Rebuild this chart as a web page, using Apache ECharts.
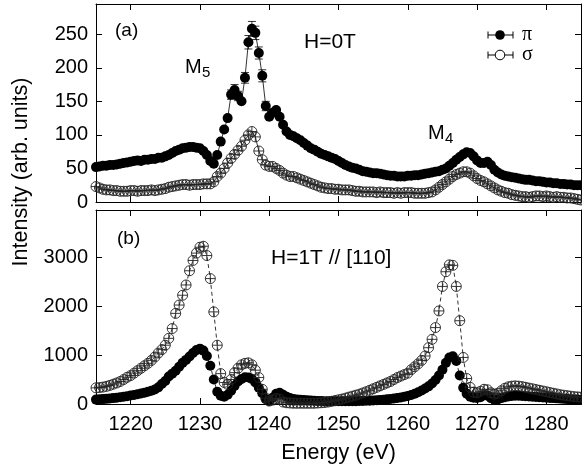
<!DOCTYPE html>
<html><head><meta charset="utf-8">
<script src="https://cdn.jsdelivr.net/npm/echarts@6/dist/echarts.min.js"></script>
<style>html,body{margin:0;padding:0;background:#fff}#c{width:582px;height:470px}</style>
</head><body><div id="c"></div>
<script>
// Photon energy grid (eV)
const energies = [
1215,1215.5,1216,1216.5,1217,1217.5,1218,1218.5,1219,1219.5,
1220,1220.5,1221,1221.5,1222,1222.5,1223,1223.5,1224,1224.5,
1225,1225.5,1226,1226.5,1227,1227.5,1228,1228.5,1229,1229.5,
1230,1230.5,1231,1231.5,1232,1232.5,1233,1233.5,1234,1234.5,
1235,1235.5,1236,1236.5,1237,1237.5,1238,1238.5,1239,1239.5,
1240,1240.5,1241,1241.5,1242,1242.5,1243,1243.5,1244,1244.5,
1245,1245.5,1246,1246.5,1247,1247.5,1248,1248.5,1249,1249.5,
1250,1250.5,1251,1251.5,1252,1252.5,1253,1253.5,1254,1254.5,
1255,1255.5,1256,1256.5,1257,1257.5,1258,1258.5,1259,1259.5,
1260,1260.5,1261,1261.5,1262,1262.5,1263,1263.5,1264,1264.5,
1265,1265.5,1266,1266.5,1267,1267.5,1268,1268.5,1269,1269.5,
1270,1270.5,1271,1271.5,1272,1272.5,1273,1273.5,1274,1274.5,
1275,1275.5,1276,1276.5,1277,1277.5,1278,1278.5,1279,1279.5,
1280,1280.5,1281,1281.5,1282,1282.5,1283,1283.5,1284,1284.5,
1285];
// (a) H = 0 T
const piTop = [
52,53,54,54,55,55,56,57,58,59,
60,61,62,61,63,63,64,64,66,66,
68,70,73,76,78,80,81,82,82,81,
80,76,70,61,57,70,90,108,125,160,
167,158,150,185,238,258,252,222,188,143,
127,133,137,127,115,105,100,98,95,92,
88,84,80,78,75,72,70,68,66,64,
61,58,55,53,51,50,48,46,45,44,
43,43,42,41,40,39,39,38,38,38,
39,39,40,40,41,42,43,44,45,46,
48,50,54,58,63,67,71,74,73,68,
62,58,58,60,55,48,44,41,39,38,
37,36,35,34,33,33,32,31,31,30,
29,29,28,28,27,27,26,26,25,25,
25];
const sigmaTop = [
23,21,19,18,18,17,17,16,16,16,
17,17,16,17,17,17,18,17,18,19,
20,22,23,24,25,26,26,25,26,26,
26,27,27,27,30,38,43,50,58,65,
71,77,83,92,100,105,97,76,63,55,
53,53,50,47,43,40,38,38,36,34,
32,30,28,26,24,22,21,20,20,19,
19,18,18,18,17,16,16,15,15,15,
15,14,15,14,14,14,13,14,13,14,
14,14,13,13,13,13,14,15,18,22,
26,30,34,38,41,43,45,45,43,39,
35,32,30,27,24,21,18,16,14,13,
11,10,9,8,8,7,8,9,9,8,
9,8,7,8,7,7,6,6,5,4,
3];
// error bars of the pi data in (a): [energy, error]
const piTopErr = [[1234.5,7],[1235,8],[1235.5,7],[1236.5,8],[1237,10],[1237.5,11],[1238,10],[1238.5,9],[1239,9],[1239.5,7]];
// (b) H = 1 T // [110]
const piBottom = [
90,95,100,105,112,120,128,138,148,160,
172,185,200,215,232,250,270,295,340,410,
470,560,620,680,760,840,900,970,1040,1100,
1130,1090,980,780,500,250,170,150,190,270,
370,460,510,545,540,510,440,330,220,100,
60,130,210,230,190,150,120,100,90,85,
80,75,70,66,62,60,58,56,55,55,
55,55,55,56,57,58,60,62,65,68,
72,76,82,88,95,103,112,122,134,148,
165,185,210,240,275,315,360,420,490,580,
700,840,950,975,880,580,330,210,150,130,
125,140,180,170,120,85,95,120,140,155,
165,170,170,165,160,155,150,145,140,135,
130,125,120,115,110,105,100,95,90,88,
85];
const sigmaBottom = [
330,335,345,360,380,405,430,460,500,545,
580,630,680,730,780,830,890,960,1040,1110,
1200,1340,1540,1850,2020,2220,2430,2720,2930,3080,
3200,3220,3030,2560,1880,1200,620,440,400,500,
640,730,800,830,840,800,690,540,300,120,
60,80,110,100,40,25,20,15,15,15,
15,15,15,15,20,25,30,40,55,70,
85,100,120,140,160,180,200,225,250,280,
310,340,370,400,430,460,500,540,570,600,
630,700,760,820,890,980,1150,1320,1560,1900,
2400,2700,2840,2830,2400,1700,950,520,340,240,
230,260,300,290,230,200,220,270,320,350,
365,370,365,355,340,325,310,295,280,265,
250,235,220,205,190,180,170,160,150,145,
140];
const xTicks = [1220,1230,1240,1250,1260,1270,1280];
const yTicksTop = [0,50,100,150,200,250];
const yTicksBottom = [0,1000,2000,3000];

const FONT = 'Liberation Sans';
const pairs = (vals) => energies.map((e, i) => [e, vals[i]]);
const plain = (v) => String(v);

function xAx(grid, pos, labels, extra) {
  return Object.assign({
    type: 'value', gridIndex: grid, position: pos, min: 1215, max: 1285,
    axisLine: { show: true, onZero: false, lineStyle: { color: '#000', width: 1 } },
    axisTick: { show: true, inside: true, length: 6, customValues: xTicks, lineStyle: { color: '#000' } },
    axisLabel: { show: labels, customValues: xTicks, formatter: plain, color: '#000', fontFamily: FONT, fontSize: 20, margin: 10 },
    splitLine: { show: false }
  }, extra || {});
}
function yAx(grid, pos, labels, max, ticks) {
  return {
    type: 'value', gridIndex: grid, position: pos, min: 0, max: max,
    axisLine: { show: true, onZero: false, lineStyle: { color: '#000', width: 1 } },
    axisTick: { show: true, inside: true, length: 6, customValues: ticks, lineStyle: { color: '#000' } },
    axisLabel: { show: labels, customValues: ticks, formatter: plain, color: '#000', fontFamily: FONT, fontSize: 20, margin: 8 },
    splitLine: { show: false }
  };
}
function lineSeries(vals, xi, yi, dashed) {
  return {
    type: 'line', xAxisIndex: xi, yAxisIndex: yi, data: pairs(vals), showSymbol: false,
    lineStyle: { color: '#000', width: 0.8, type: dashed ? [4, 3] : 'solid' },
    silent: true, z: 1, animation: false
  };
}
function markerSeries(vals, filled, xi, yi, errs) {
  const errMap = new Map(errs || []);
  return {
    type: 'custom', xAxisIndex: xi, yAxisIndex: yi, data: pairs(vals), clip: false, silent: true, z: 3,
    animation: false,
    renderItem(params, api) {
      const E = api.value(0), v = api.value(1);
      const p = api.coord([E, v]);
      const r = 5;
      const kids = [];
      const err = errMap.get(E);
      if (err) {
        const a = api.coord([E, v + err]), b = api.coord([E, v - err]);
        const st = { stroke: '#000', lineWidth: 0.8 };
        kids.push({ type: 'line', shape: { x1: p[0], y1: a[1], x2: p[0], y2: b[1] }, style: st });
        kids.push({ type: 'line', shape: { x1: p[0] - 4, y1: a[1], x2: p[0] + 4, y2: a[1] }, style: st });
        kids.push({ type: 'line', shape: { x1: p[0] - 4, y1: b[1], x2: p[0] + 4, y2: b[1] }, style: st });
      }
      if (filled) {
        kids.push({ type: 'circle', shape: { cx: p[0], cy: p[1], r: r }, style: { fill: '#000' } });
      } else {
        const st = { stroke: '#222', lineWidth: 0.9, fill: null };
        kids.push({ type: 'circle', shape: { cx: p[0], cy: p[1], r: r }, style: { stroke: '#222', lineWidth: 0.9, fill: 'none' } });
        kids.push({ type: 'line', shape: { x1: p[0] - r, y1: p[1], x2: p[0] + r, y2: p[1] }, style: st });
        kids.push({ type: 'line', shape: { x1: p[0], y1: p[1] - r, x2: p[0], y2: p[1] + r }, style: st });
      }
      return { type: 'group', children: kids };
    }
  };
}
function txt(x, y, s, size, extra) {
  return Object.assign({ type: 'text', x: x, y: y,
    style: { text: s, fill: '#000', font: size + 'px "' + FONT + '"', textVerticalAlign: 'middle', textAlign: 'left' } }, extra || {});
}
function legendItem(y, label, filled) {
  const cx = 500;
  const kids = [
    { type: 'line', shape: { x1: 488, y1: y, x2: 513, y2: y }, style: { stroke: '#000', lineWidth: 1 } },
    { type: 'line', shape: { x1: 488, y1: y - 3.5, x2: 488, y2: y + 3.5 }, style: { stroke: '#000', lineWidth: 1 } },
    { type: 'line', shape: { x1: 513, y1: y - 3.5, x2: 513, y2: y + 3.5 }, style: { stroke: '#000', lineWidth: 1 } },
    { type: 'circle', shape: { cx: cx, cy: y, r: 4.8 }, style: filled ? { fill: '#000' } : { fill: '#fff', stroke: '#000', lineWidth: 1 } },
    { type: 'text', x: 522, y: y, style: { text: label, fill: '#000', font: '20px "Liberation Serif"', textVerticalAlign: 'middle' } }
  ];
  return { type: 'group', children: kids };
}

const chart = echarts.init(document.getElementById('c'), null, { renderer: 'canvas' });
chart.setOption({
  animation: false,
  backgroundColor: '#fff',
  grid: [
    { left: 96, right: 1, top: 4, height: 198 },
    { left: 96, right: 1, top: 210, height: 194 }
  ],
  xAxis: [
    xAx(0, 'bottom', false),
    xAx(0, 'top', false),
    xAx(1, 'bottom', true, { name: 'Energy (eV)', nameLocation: 'middle', nameGap: 38,
      nameTextStyle: { color: '#000', fontFamily: FONT, fontSize: 21.5 } }),
    xAx(1, 'top', false)
  ],
  yAxis: [
    yAx(0, 'left', true, 295, yTicksTop),
    yAx(0, 'right', false, 295, yTicksTop),
    yAx(1, 'left', true, 3960, yTicksBottom),
    yAx(1, 'right', false, 3960, yTicksBottom)
  ],
  series: [
    lineSeries(piTop, 0, 0, false),
    lineSeries(sigmaTop, 0, 0, false),
    markerSeries(sigmaTop, false, 0, 0),
    markerSeries(piTop, true, 0, 0, piTopErr),
    lineSeries(piBottom, 2, 2, true),
    lineSeries(sigmaBottom, 2, 2, true),
    markerSeries(piBottom, true, 2, 2),
    markerSeries(sigmaBottom, false, 2, 2)
  ],
  graphic: [
    { type: 'text', x: 21, y: 172, rotation: Math.PI / 2,
      style: { text: 'Intensity (arb. units)', fill: '#000', font: '21.5px "' + FONT + '"', textAlign: 'center', textVerticalAlign: 'middle' } },
    txt(115, 31, '(a)', 19),
    txt(185, 67, 'M', 20), txt(202, 73, '5', 15),
    txt(304, 42, 'H=0T', 21),
    txt(428, 133, 'M', 20), txt(445, 139, '4', 15),
    txt(117, 239, '(b)', 19),
    txt(271, 258, 'H=1T // [110]', 21),
    legendItem(35, 'π', true),
    legendItem(55, 'σ', false)
  ]
});
</script></body></html>
